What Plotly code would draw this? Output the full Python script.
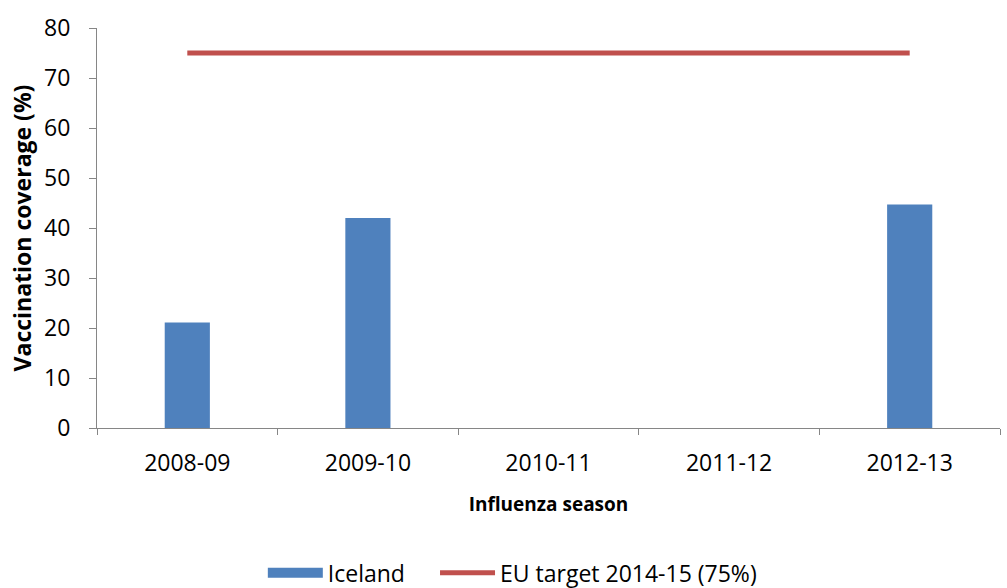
import plotly.graph_objects as go

seasons = ["2008-09", "2009-10", "2010-11", "2011-12", "2012-13"]
iceland = [21.1, 42.0, None, None, 44.7]
eu_target = [75, 75, 75, 75, 75]

FONT = "Open Sans"
AXIS = "#868686"
BAR_COLOR = "#4F81BD"
LINE_COLOR = "#C0504D"

fig = go.Figure()
fig.add_trace(go.Bar(x=seasons, y=iceland, name="Iceland", showlegend=False,
                     marker=dict(color=BAR_COLOR, line=dict(width=0))))
# legend entry drawn as a wide swatch like the original
fig.add_trace(go.Scatter(x=[None], y=[None], name="Iceland", mode="lines",
                         line=dict(color=BAR_COLOR, width=14), hoverinfo="skip",
                         legend="legend"))
fig.add_trace(go.Scatter(x=seasons, y=eu_target, name="EU target 2014-15 (75%)",
                         mode="lines", line=dict(color=LINE_COLOR, width=5),
                         legend="legend2"))

legend_common = dict(orientation="h", xanchor="left", xref="container",
                     yref="container", y=0.026, yanchor="middle",
                     font=dict(size=23), itemwidth=55, borderwidth=0,
                     bgcolor="rgba(0,0,0,0)")

fig.update_layout(
    width=1007, height=588,
    margin=dict(l=97, r=7, t=28, b=160, autoexpand=False),
    plot_bgcolor="white", paper_bgcolor="white",
    font=dict(family=FONT, size=22, color="black"),
    bargap=0.75,
    showlegend=True,
    legend=dict(x=0.261, **legend_common),
    legend2=dict(x=0.432, **legend_common),
)
fig.update_xaxes(type="category", tickson="boundaries", ticks="outside", ticklen=6,
                 tickcolor=AXIS, showline=True, linecolor=AXIS, linewidth=1,
                 showgrid=False, zeroline=False, tickfont=dict(size=23),
                 ticklabelstandoff=14,
                 title=dict(text="<b>Influenza season</b>", font=dict(size=19), standoff=21),
                 automargin=False)
fig.update_yaxes(range=[0, 80], dtick=10, ticks="outside", ticklen=7, tickcolor=AXIS,
                 showline=True, linecolor=AXIS, linewidth=1, showgrid=False, zeroline=False,
                 tickfont=dict(size=23), ticklabelstandoff=14,
                 title=dict(text="<b>Vaccination coverage (%)</b>", font=dict(size=23), standoff=6),
                 automargin=False)

fig.write_html("out.html", config={"displayModeBar": False},
               post_script="document.body.style.margin='0';")
